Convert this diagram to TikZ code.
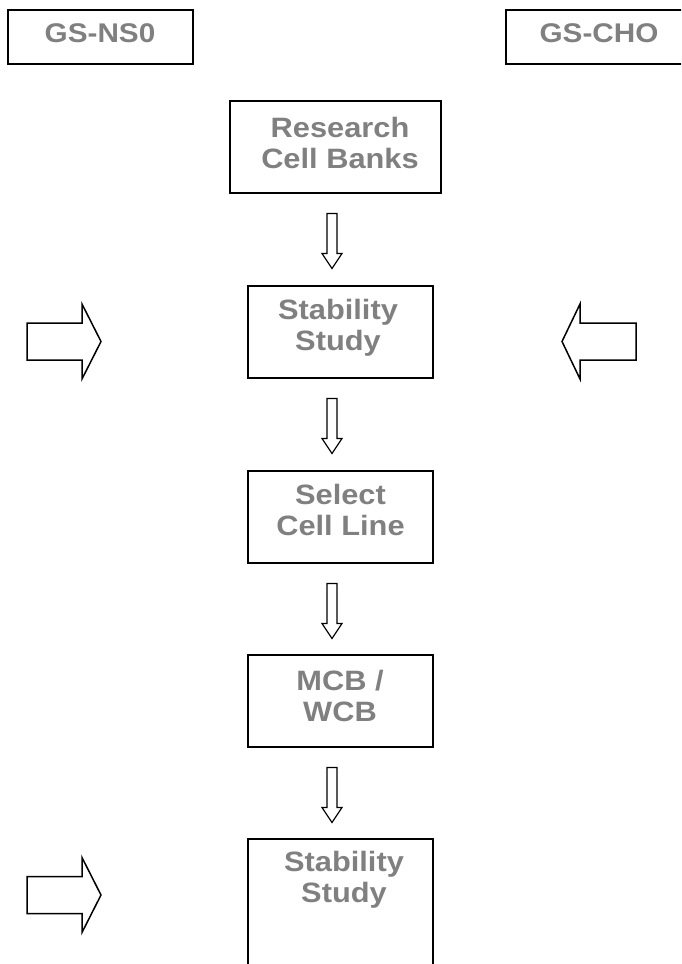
\documentclass[tikz,border=0pt]{standalone}
\usepackage{fontspec}
\newfontfamily\labfont[FakeStretch=1.1]{Liberation Sans}
\usetikzlibrary{calc}
\definecolor{labgray}{HTML}{808080}
\begin{document}
\begin{tikzpicture}[x=1pt,y=-1pt,
  boxnode/.style={draw=black,line width=2pt,inner sep=0pt,minimum width=185pt,minimum height=92pt},
  lbl/.style={text=labgray,align=center,inner sep=0pt,font=\labfont\bfseries\fontsize{28}{31}\selectfont},
  toplbl/.style={text=labgray,inner sep=0pt,font=\labfont\bfseries\fontsize{27}{30}\selectfont},
  blockarr/.style={draw=black,line width=1.5pt,line join=miter},
  pics/downarr/.style={code={\draw[draw=black,line width=1.2pt] (-5,0) -- (5,0) -- (5,40) -- (10,40) -- (0,55) -- (-10,40) -- (-5,40) -- cycle;}}]
\clip (0,0) rectangle (681,964);
\fill[white] (0,0) rectangle (681,964);
% top boxes
\node[boxnode,minimum height=54pt] (gsns) at (100.5,37) {};
\node[toplbl] (gsnst) at (100,33.5) {GS-NS0};
\node[boxnode,minimum width=186pt,minimum height=54pt] (gscho) at (599,37) {};
\node[toplbl] (gschot) at (599,33.5) {GS-CHO};
% flow boxes
\node[boxnode,minimum width=211pt] (rcb) at (335.5,147) {};
\node[lbl] (rcbt) at (340,143) {Research\\Cell Banks};
\node[boxnode] (ss1) at (340.5,332) {};
\node[lbl] (ss1t) at (338,328) {Stability\\Study};
\node[boxnode] (sel) at (340.5,517) {};
\node[lbl] (selt) at (340.5,510) {Select\\Cell Line};
\node[boxnode] (mcb) at (340.5,701) {};
\node[lbl] (mcbt) at (340,695.5) {MCB /\\WCB};
\node[boxnode,minimum height=160pt] (ss2) at (340.5,919) {};
\node[lbl] (ss2t) at (344,880) {Stability\\Study};
% down arrows
\coordinate (d1) at ($(rcb.south)+(-3.5,19.5)$);
\coordinate (d2) at ($(ss1.south)+(-8.5,19.5)$);
\coordinate (d3) at ($(sel.south)+(-8.5,19.5)$);
\coordinate (d4) at ($(mcb.south)+(-8.5,19.5)$);
\pic at (d1) {downarr};
\pic at (d2) {downarr};
\pic at (d3) {downarr};
\pic at (d4) {downarr};
% side block arrows
\draw[blockarr] (27,323) -- (82,323) -- (82,304) -- (101,341.5) -- (82,379) -- (82,360) -- (27,360) -- cycle;
\draw[blockarr] (636,323) -- (580,323) -- (580,304) -- (562,341.5) -- (580,379) -- (580,360) -- (636,360) -- cycle;
\draw[blockarr] (27,876.5) -- (82,876.5) -- (82,857.5) -- (101,895) -- (82,932.5) -- (82,913.5) -- (27,913.5) -- cycle;
\end{tikzpicture}
\end{document}
